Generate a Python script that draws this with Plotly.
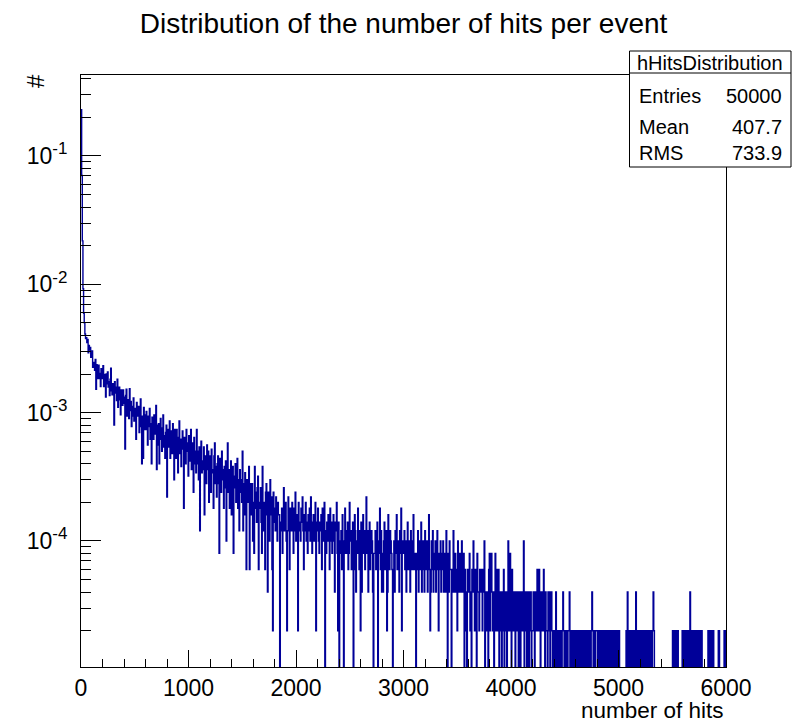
import numpy as np
import plotly.graph_objects as go

# hHitsDistribution: 1000 bins over [0, 6000), counts per bin, normalised by the entries
N_ENTRIES = 50000
X_MIN, X_MAX, N_BINS = 0, 6000, 1000

counts_0000_0600 = [
    11480, 3520, 1090, 462, 297, 251, 205, 189, 192, 176,
    186, 146, 167, 154, 161, 135, 138, 151, 113, 118,
    123, 107, 130, 76, 118, 110, 92, 117, 92, 101,
    80, 110, 102, 92, 116, 80, 92, 99, 66, 100,
    84, 104, 79, 87, 68, 91, 111, 74, 69, 84,
    77, 40, 87, 71, 79, 62, 91, 55, 72, 79,
    63, 48, 75, 67, 57, 75, 59, 66, 26, 68,
    76, 47, 58, 63, 45, 77, 52, 61, 39, 56,
    47, 65, 43, 54, 50, 31, 60, 52, 47, 56,
    35, 53, 64, 39, 20, 47, 22, 55, 48, 37,
]
counts_0600_1200 = [
    37, 51, 42, 28, 47, 39, 54, 31, 41, 20,
    46, 41, 31, 48, 34, 36, 57, 18, 40, 28,
    41, 20, 34, 45, 31, 25, 38, 48, 27, 33,
    22, 35, 40, 11, 33, 37, 27, 43, 22, 30,
    36, 24, 41, 27, 15, 37, 31, 22, 37, 32,
    17, 28, 43, 24, 31, 19, 29, 36, 26, 9,
    32, 29, 20, 37, 25, 29, 16, 33, 25, 21,
    37, 18, 26, 29, 12, 32, 20, 25, 17, 37,
    20, 25, 15, 27, 6, 24, 30, 17, 21, 18,
    27, 8, 23, 20, 14, 28, 18, 25, 10, 21,
]
counts_1200_1800 = [
    23, 12, 26, 17, 18, 9, 23, 29, 14, 19,
    11, 20, 23, 14, 4, 22, 17, 12, 25, 15,
    18, 9, 19, 13, 21, 5, 15, 29, 12, 18,
    9, 15, 21, 8, 14, 19, 4, 16, 13, 20,
    10, 14, 22, 9, 15, 6, 18, 12, 15, 10,
    25, 6, 14, 8, 17, 11, 3, 15, 12, 10,
    19, 3, 11, 14, 8, 14, 5, 10, 4, 19,
    12, 9, 7, 13, 16, 3, 10, 9, 13, 7,
    4, 19, 6, 10, 9, 3, 12, 14, 8, 2,
    12, 9, 5, 15, 8, 11, 3, 1, 12, 7,
]
counts_1800_2400 = [
    9, 6, 11, 7, 5, 10, 8, 8, 0, 6,
    7, 9, 4, 8, 13, 6, 7, 10, 5, 1,
    6, 11, 7, 3, 9, 8, 6, 10, 7, 4,
    9, 6, 12, 5, 7, 8, 1, 10, 6, 7,
    5, 9, 7, 11, 6, 3, 8, 6, 10, 5,
    7, 4, 8, 6, 9, 5, 11, 6, 4, 7,
    8, 5, 6, 10, 1, 7, 6, 9, 5, 4,
    7, 6, 8, 3, 9, 5, 6, 10, 0, 6,
    4, 7, 5, 8, 6, 3, 9, 5, 7, 4,
    6, 8, 5, 2, 7, 6, 10, 4, 1, 7,
]
counts_2400_3000 = [
    0, 5, 4, 6, 3, 8, 5, 0, 4, 9,
    6, 4, 5, 7, 3, 4, 10, 5, 6, 3,
    4, 7, 0, 3, 8, 6, 2, 5, 4, 9,
    5, 3, 6, 1, 7, 2, 5, 8, 4, 6,
    3, 5, 11, 4, 6, 2, 5, 7, 3, 4,
    6, 5, 2, 0, 4, 4, 6, 3, 5, 7,
    0, 4, 5, 9, 3, 6, 2, 4, 2, 5,
    7, 3, 4, 6, 1, 2, 8, 4, 3, 6,
    5, 4, 3, 0, 3, 5, 2, 6, 4, 8,
    3, 5, 4, 2, 6, 4, 9, 1, 5, 4,
]
counts_3000_3600 = [
    4, 6, 3, 5, 2, 4, 7, 3, 5, 4,
    2, 6, 4, 3, 5, 8, 3, 4, 4, 0,
    3, 4, 6, 2, 5, 3, 4, 7, 2, 4,
    5, 3, 2, 6, 4, 3, 5, 2, 4, 8,
    3, 1, 2, 5, 3, 6, 2, 4, 3, 5,
    2, 4, 6, 3, 1, 4, 3, 5, 2, 4,
    3, 5, 2, 4, 3, 2, 6, 3, 0, 4,
    2, 5, 3, 3, 0, 2, 3, 6, 2, 3,
    4, 2, 3, 1, 5, 3, 2, 4, 3, 2,
    5, 3, 2, 4, 0, 3, 2, 1, 0, 3,
]
counts_3600_4200 = [
    3, 2, 4, 1, 2, 0, 3, 2, 5, 2,
    1, 3, 2, 0, 4, 2, 2, 1, 3, 2,
    3, 2, 1, 3, 2, 5, 0, 2, 1, 2,
    2, 0, 3, 4, 1, 2, 4, 2, 1, 2,
    0, 2, 4, 1, 2, 3, 1, 3, 0, 2,
    2, 1, 0, 2, 1, 3, 0, 1, 2, 1,
    0, 2, 5, 1, 2, 4, 1, 0, 3, 1,
    2, 1, 2, 0, 2, 1, 2, 2, 0, 1,
    2, 0, 1, 2, 1, 2, 5, 0, 1, 2,
    1, 0, 2, 1, 0, 2, 1, 2, 0, 1,
]
counts_4200_4800 = [
    1, 2, 1, 0, 2, 1, 1, 3, 2, 1,
    3, 1, 0, 2, 1, 1, 2, 3, 1, 0,
    2, 1, 1, 0, 2, 1, 2, 0, 1, 2,
    1, 0, 1, 1, 0, 1, 2, 0, 1, 1,
    0, 1, 1, 0, 1, 0, 1, 2, 1, 0,
    1, 1, 0, 1, 0, 1, 1, 2, 0, 1,
    0, 1, 1, 0, 1, 1, 0, 1, 0, 1,
    1, 0, 1, 1, 0, 0, 1, 1, 0, 1,
    1, 0, 0, 1, 1, 0, 1, 0, 1, 1,
    0, 1, 2, 1, 0, 1, 0, 0, 1, 1,
]
counts_4800_5400 = [
    1, 0, 1, 0, 1, 1, 0, 1, 0, 0,
    1, 1, 0, 1, 0, 1, 0, 0, 1, 1,
    0, 1, 0, 1, 1, 0, 0, 1, 0, 1,
    1, 0, 1, 0, 1, 0, 0, 0, 0, 0,
    0, 0, 0, 0, 0, 1, 0, 2, 1, 0,
    1, 1, 0, 1, 0, 0, 1, 1, 0, 1,
    2, 0, 1, 0, 1, 1, 0, 0, 1, 0,
    1, 1, 0, 1, 0, 0, 1, 0, 1, 1,
    0, 1, 0, 1, 1, 0, 1, 2, 1, 0,
    0, 0, 0, 0, 0, 0, 0, 0, 0, 0,
]
counts_5400_6000 = [
    0, 0, 0, 0, 0, 0, 0, 0, 0, 0,
    0, 0, 0, 0, 0, 0, 0, 1, 0, 1,
    1, 0, 1, 1, 0, 1, 0, 0, 0, 0,
    0, 0, 1, 0, 1, 1, 0, 1, 0, 1,
    1, 0, 1, 0, 2, 1, 0, 1, 1, 0,
    1, 0, 0, 1, 1, 0, 1, 0, 1, 1,
    0, 1, 1, 0, 0, 0, 0, 0, 0, 0,
    0, 0, 1, 0, 1, 1, 0, 1, 0, 0,
    1, 0, 0, 0, 0, 0, 0, 0, 1, 1,
    0, 0, 0, 0, 0, 0, 0, 1, 0, 1,
]

stats_labels = ["Entries", "Mean", "RMS"]
stats_values = ["50000", "407.7", "733.9"]

counts = np.array(
    counts_0000_0600 + counts_0600_1200 + counts_1200_1800 + counts_1800_2400
    + counts_2400_3000 + counts_3000_3600 + counts_3600_4200 + counts_4200_4800
    + counts_4800_5400 + counts_5400_6000, dtype=float)
edges = np.linspace(X_MIN, X_MAX, N_BINS + 1)
frac = counts / N_ENTRIES
# empty bins drop below the log-axis floor, like ROOT's outline
frac_plot = np.where(frac > 0, frac, 1e-9)
x_step = np.append(edges[:-1], edges[-1])
y_step = np.append(frac_plot, frac_plot[-1])

FONT = "Liberation Sans, Arial, Helvetica, sans-serif"
Y_LO, Y_HI = -4.982, -0.369

fig = go.Figure()
fig.add_trace(go.Scatter(
    x=x_step, y=y_step, mode="lines",
    line=dict(color="#000099", width=1.4, shape="hv", simplify=False),
    hoverinfo="skip", showlegend=False,
))

decades = [1e-4, 1e-3, 1e-2, 1e-1]
decade_text = ["10<sup><span style='font-size:17px'>-%d</span></sup>" % e for e in (4, 3, 2, 1)]
minor_vals = [k * 10.0 ** e for e in range(-5, 0) for k in range(2, 10)]

fig.update_layout(
    width=809, height=723,
    margin=dict(l=81, r=83, t=75, b=56),
    paper_bgcolor="white", plot_bgcolor="white",
    font=dict(family=FONT, color="black"),
    title=dict(text="Distribution of the number of hits per event",
               x=0.5, xref="paper", xanchor="center",
               y=1 - 23 / 723, yanchor="middle", yref="container",
               font=dict(size=28, family=FONT, color="black")),
    xaxis=dict(
        range=[X_MIN, X_MAX], showgrid=False, zeroline=False,
        showline=True, linecolor="black", linewidth=1, mirror=True,
        ticks="inside", ticklen=17, tickwidth=1, tickcolor="black",
        tickmode="linear", tick0=0, dtick=1000,
        minor=dict(ticks="inside", ticklen=8, tickwidth=1, tickcolor="black",
                   dtick=200, tick0=0, showgrid=False),
        tickfont=dict(size=23, family=FONT, color="black"),
        ticklabelstandoff=0,
    ),
    yaxis=dict(
        type="log", range=[Y_LO, Y_HI], showgrid=False, zeroline=False,
        showline=True, linecolor="black", linewidth=1, mirror=True,
        ticks="inside", ticklen=20, tickwidth=1, tickcolor="black",
        tickmode="array", tickvals=decades, ticktext=decade_text,
        minor=dict(ticks="inside", ticklen=10, tickwidth=1, tickcolor="black",
                   tickmode="array", tickvals=minor_vals, showgrid=False),
        tickfont=dict(size=23, family=FONT, color="black"),
        ticklabelstandoff=8,
    ),
)

# axis titles
fig.add_annotation(text="number of hits", xref="paper", yref="paper",
                   x=1.0, y=-43 / 592, xanchor="right", yanchor="middle",
                   showarrow=False, font=dict(size=22.5, family=FONT, color="black"))
fig.add_annotation(text="#", xref="paper", yref="paper",
                   x=-45 / 645, y=1 - 6 / 592, xanchor="center", yanchor="middle",
                   textangle=-90, showarrow=False,
                   font=dict(size=24, family=FONT, color="black"))

# statistics box
def px_x(p):
    return (p - 81) / 645.0

def px_y(p):
    return (667 - p) / 592.0

bx0, bx1, by_top, by_sep, by_bot = 629.5, 791, 51, 73, 167
fig.add_shape(type="rect", xref="paper", yref="paper",
              x0=px_x(bx0), x1=px_x(bx1), y0=px_y(by_bot), y1=px_y(by_top),
              line=dict(color="black", width=1), fillcolor="white", layer="above")
fig.add_shape(type="line", xref="paper", yref="paper",
              x0=px_x(bx0), x1=px_x(bx1), y0=px_y(by_sep), y1=px_y(by_sep),
              line=dict(color="black", width=1), layer="above")
fig.add_annotation(text="hHitsDistribution", xref="paper", yref="paper",
                   x=px_x((bx0 + bx1) / 2), y=px_y(63), xanchor="center", yanchor="middle",
                   showarrow=False, font=dict(size=20, family=FONT, color="black"))
row_y = [96, 127, 152.5]
for lab, val, ry in zip(stats_labels, stats_values, row_y):
    fig.add_annotation(text=lab, xref="paper", yref="paper",
                       x=px_x(637), y=px_y(ry), xanchor="left", yanchor="middle",
                       showarrow=False, font=dict(size=20, family=FONT, color="black"))
    fig.add_annotation(text=val, xref="paper", yref="paper",
                       x=px_x(784), y=px_y(ry), xanchor="right", yanchor="middle",
                       showarrow=False, font=dict(size=20, family=FONT, color="black"))

fig.write_html("out.html")
